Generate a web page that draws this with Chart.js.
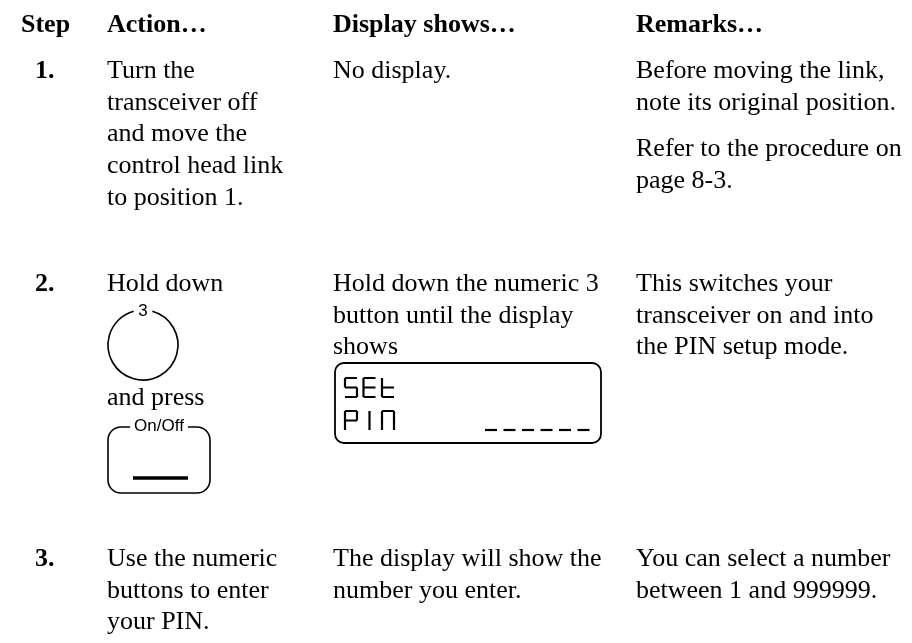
<!DOCTYPE html>
<html>
<head>
<meta charset="utf-8">
<title>PIN setup procedure</title>
<script src="https://cdn.jsdelivr.net/npm/chart.js@4.4.1/dist/chart.umd.min.js"></script>
<style>
  html, body { margin: 0; padding: 0; background: #ffffff; }
  #wrap { width: 912px; height: 643px; position: relative; }
</style>
</head>
<body>
<div id="wrap"><canvas id="doc" width="912" height="643"></canvas></div>
<script>
// ---- content (text) ----
const columnHeaders = ['Step', 'Action\u2026', 'Display shows\u2026', 'Remarks\u2026'];
const stepLabels = ['1.', '2.', '3.'];

const action1 = ['Turn the', 'transceiver off', 'and move the', 'control head link', 'to position 1.'];
const display1 = ['No display.'];
const remarks1a = ['Before moving the link,', 'note its original position.'];
const remarks1b = ['Refer to the procedure on', 'page 8-3.'];

const action2a = ['Hold down'];
const action2b = ['and press'];
const buttonKeyLabel = '3';
const buttonPowerLabel = 'On/Off';
const display2 = ['Hold down the numeric 3', 'button until the display', 'shows'];
const lcdLines = ['SEt', 'PIN'];
const lcdPinSlots = 6;
const remarks2 = ['This switches your', 'transceiver on and into', 'the PIN setup mode.'];

const action3 = ['Use the numeric', 'buttons to enter', 'your PIN.'];
const display3 = ['The display will show the', 'number you enter.'];
const remarks3 = ['You can select a number', 'between 1 and 999999.'];

// ---- layout (page units, mapped through the chart's scales) ----
const L = {
  headerX: [21, 107, 333, 636],
  stepX: 35,
  headerY: 32,
  lineH: 31.7,
  row1Y: 78,
  remarks1bY: 156,
  row2Y: 291,
  key: { cx: 143, cy: 345, r: 35, gap: 0.27, labelY: 316 },
  action2bY: 405,
  power: { x0: 108, x1: 210, y0: 427, y1: 493, r: 13, labelY: 431, barX0: 133, barX1: 188, barY: 478 },
  lcd: { x0: 335, x1: 601, y0: 363, y1: 443, r: 9, charX: 345, pitch: 18.5, cw: 12, ch: 19, rowY: [378, 411], slotX: 485 },
  row3Y: 566
};

const serif = '"Liberation Serif", "Times New Roman", serif';
const sans = '"Liberation Sans", Arial, sans-serif';

// seven-segment map: a top, b upper-right, c lower-right, d bottom, e lower-left, f upper-left, g middle
const SEG = {
  S: 'afgcd', E: 'afged', t: 'fged', P: 'abfge', I: 'I', N: 'abcef'
};

const docPlugin = {
  id: 'docPlugin',
  afterDraw(chart) {
    const { ctx } = chart;
    const sx = chart.scales.x, sy = chart.scales.y;
    const X = v => sx.getPixelForValue(v);
    const Y = v => sy.getPixelForValue(v);
    ctx.save();
    ctx.fillStyle = '#000';
    ctx.strokeStyle = '#000';
    ctx.textAlign = 'left';
    ctx.textBaseline = 'alphabetic';

    // headers
    ctx.font = 'bold 26px ' + serif;
    columnHeaders.forEach((h, i) => ctx.fillText(h, X(L.headerX[i]), Y(L.headerY)));

    // step numbers
    [L.row1Y, L.row2Y, L.row3Y].forEach((yy, i) => ctx.fillText(stepLabels[i], X(L.stepX), Y(yy)));

    ctx.font = '26px ' + serif;
    const lines = (arr, col, y0) => arr.forEach((t, i) => ctx.fillText(t, X(L.headerX[col]), Y(y0 + i * L.lineH)));

    // row 1
    lines(action1, 1, L.row1Y);
    lines(display1, 2, L.row1Y);
    lines(remarks1a, 3, L.row1Y);
    lines(remarks1b, 3, L.remarks1bY);

    // row 2
    lines(action2a, 1, L.row2Y);
    lines(action2b, 1, L.action2bY);
    lines(display2, 2, L.row2Y);
    lines(remarks2, 3, L.row2Y);

    // row 3
    lines(action3, 1, L.row3Y);
    lines(display3, 2, L.row3Y);
    lines(remarks3, 3, L.row3Y);

    // numeric key "3"
    const k = L.key;
    ctx.lineWidth = 1.6;
    ctx.beginPath();
    ctx.arc(X(k.cx), Y(k.cy), k.r, -Math.PI / 2 + k.gap, -Math.PI / 2 - k.gap + Math.PI * 2);
    ctx.stroke();
    ctx.font = '17px ' + sans;
    ctx.textAlign = 'center';
    ctx.fillText(buttonKeyLabel, X(k.cx), Y(k.labelY));

    // On/Off key
    const p = L.power;
    ctx.font = '17px ' + sans;
    const lw = ctx.measureText(buttonPowerLabel).width;
    const cxp = (X(p.x0) + X(p.x1)) / 2;
    const gl = cxp - lw / 2 - 4, gr = cxp + lw / 2 + 4;
    const x0 = X(p.x0), x1 = X(p.x1), y0 = Y(p.y0), y1 = Y(p.y1), r = p.r;
    ctx.beginPath();
    ctx.moveTo(gr, y0);
    ctx.lineTo(x1 - r, y0);
    ctx.arcTo(x1, y0, x1, y0 + r, r);
    ctx.lineTo(x1, y1 - r);
    ctx.arcTo(x1, y1, x1 - r, y1, r);
    ctx.lineTo(x0 + r, y1);
    ctx.arcTo(x0, y1, x0, y1 - r, r);
    ctx.lineTo(x0, y0 + r);
    ctx.arcTo(x0, y0, x0 + r, y0, r);
    ctx.lineTo(gl, y0);
    ctx.stroke();
    ctx.fillText(buttonPowerLabel, cxp, Y(p.labelY));
    ctx.lineWidth = 3.5;
    ctx.beginPath();
    ctx.moveTo(X(p.barX0), Y(p.barY));
    ctx.lineTo(X(p.barX1), Y(p.barY));
    ctx.stroke();

    // LCD display
    const d = L.lcd;
    ctx.lineWidth = 1.8;
    ctx.beginPath();
    ctx.roundRect(X(d.x0), Y(d.y0), X(d.x1) - X(d.x0), Y(d.y1) - Y(d.y0), d.r);
    ctx.stroke();

    ctx.lineWidth = 2.2;
    ctx.lineCap = 'butt';
    const seg = (x, y, s) => {
      const w = d.cw, h = d.ch, m = h / 2;
      const S = {
        a: [[x, y], [x + w, y]],
        b: [[x + w, y], [x + w, y + m]],
        c: [[x + w, y + m], [x + w, y + h]],
        d: [[x, y + h], [x + w, y + h]],
        e: [[x, y + m], [x, y + h]],
        f: [[x, y], [x, y + m]],
        g: [[x, y + m], [x + w, y + m]],
        I: [[x + w / 2, y], [x + w / 2, y + h]]
      };
      ctx.beginPath();
      for (const c of s) {
        const q = S[c];
        ctx.moveTo(q[0][0], q[0][1]);
        ctx.lineTo(q[1][0], q[1][1]);
      }
      ctx.stroke();
    };
    lcdLines.forEach((txt, row) => {
      [...txt].forEach((ch, i) => seg(X(d.charX + i * d.pitch), Y(d.rowY[row]), SEG[ch] || ''));
    });
    for (let i = 0; i < lcdPinSlots; i++) {
      seg(X(d.slotX + i * d.pitch), Y(d.rowY[1]), 'd');
    }
    ctx.restore();
  }
};

new Chart(document.getElementById('doc'), {
  type: 'scatter',
  data: { datasets: [] },
  options: {
    responsive: false,
    animation: false,
    events: [],
    layout: { padding: 0 },
    plugins: { legend: { display: false }, tooltip: { enabled: false } },
    scales: {
      x: { type: 'linear', min: 0, max: 912, display: false },
      y: { type: 'linear', min: 0, max: 643, reverse: true, display: false }
    }
  },
  plugins: [docPlugin]
});
</script>
</body>
</html>
